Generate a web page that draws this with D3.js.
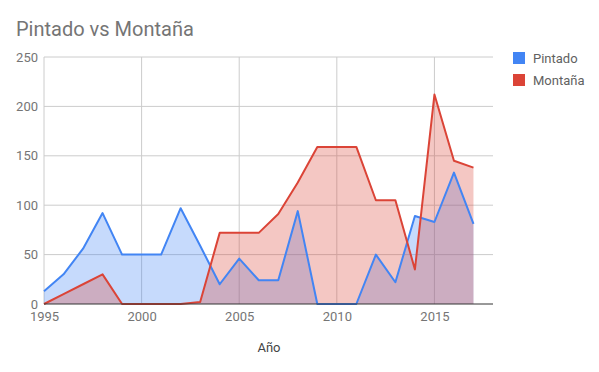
<!DOCTYPE html>
<html>
<head>
<meta charset="utf-8">
<script src="https://cdn.jsdelivr.net/npm/d3@7"></script>
<style>
  body { margin: 0; background: #fff; }
  svg { font-family: Roboto, Arial, sans-serif; }
</style>
</head>
<body>
<div id="chart"></div>
<script>
// Chart data
const years = d3.range(1995, 2018);
const pintado = [13, 30, 56, 92, 50, 50, 50, 97, 59, 20, 46, 24, 24, 94, 0, 0, 0, 50, 22, 89, 83, 133, 81];
const montana = [0, 10, 20, 30, 0, 0, 0, 0, 2, 72, 72, 72, 91, 123, 159, 159, 159, 105, 105, 35, 212, 145, 138];
const seriesNames = ["Pintado", "Montaña"];
const seriesColors = ["#4285f4", "#db4437"];
const yTicks = [0, 50, 100, 150, 200, 250];
const xTicks = [1995, 2000, 2005, 2010, 2015];

const width = 599, height = 372;
const margin = {top: 57, right: 106, bottom: 68, left: 44};

const svg = d3.select("#chart")
  .append("svg")
  .attr("width", width)
  .attr("height", height);

const x = d3.scaleLinear()
  .domain([1995, 2018])
  .range([margin.left, width - margin.right]);

const y = d3.scaleLinear()
  .domain([0, 250])
  .range([height - margin.bottom, margin.top]);

// title
svg.append("text")
  .attr("x", 16)
  .attr("y", 36)
  .attr("font-size", 20)
  .attr("fill", "#757575")
  .text("Pintado vs Montaña");

// gridlines
svg.append("g")
  .selectAll("line")
  .data(yTicks.slice(1))
  .join("line")
  .attr("x1", margin.left)
  .attr("x2", width - margin.right)
  .attr("y1", d => y(d))
  .attr("y2", d => y(d))
  .attr("stroke", "#cccccc");

svg.append("g")
  .selectAll("line")
  .data(xTicks)
  .join("line")
  .attr("x1", d => x(d))
  .attr("x2", d => x(d))
  .attr("y1", y(0))
  .attr("y2", y(250))
  .attr("stroke", "#cccccc");

// areas and lines
const allSeries = [pintado, montana];

const area = d3.area()
  .x((d, i) => x(years[i]))
  .y0(y(0))
  .y1(d => y(d));

const line = d3.line()
  .x((d, i) => x(years[i]))
  .y(d => y(d));

allSeries.forEach((s, k) => {
  svg.append("path")
    .datum(s)
    .attr("d", area)
    .attr("fill", seriesColors[k])
    .attr("fill-opacity", 0.3);
});

allSeries.forEach((s, k) => {
  svg.append("path")
    .datum(s)
    .attr("d", line)
    .attr("fill", "none")
    .attr("stroke", seriesColors[k])
    .attr("stroke-width", 2)
    .attr("stroke-linejoin", "round");
});

// baseline
svg.append("line")
  .attr("x1", margin.left)
  .attr("x2", width - margin.right)
  .attr("y1", y(0))
  .attr("y2", y(0))
  .attr("stroke", "#333333")
  .attr("stroke-width", 1);

// y axis labels
const yAxis = d3.axisLeft(y).tickValues(yTicks).tickSize(0).tickPadding(6);
svg.append("g")
  .attr("transform", `translate(${margin.left},0)`)
  .call(yAxis)
  .call(g => g.select(".domain").remove())
  .call(g => g.selectAll("text").attr("font-size", 13).attr("fill", "#757575").attr("font-family", "Roboto, Arial, sans-serif"));

// x axis labels
const xAxis = d3.axisBottom(x).tickValues(xTicks).tickFormat(d3.format("d")).tickSize(0).tickPadding(8);
svg.append("g")
  .attr("transform", `translate(0,${y(0)})`)
  .call(xAxis)
  .call(g => g.select(".domain").remove())
  .call(g => g.selectAll("text").attr("font-size", 13).attr("fill", "#757575").attr("font-family", "Roboto, Arial, sans-serif"));

// x axis title
svg.append("text")
  .attr("x", 269)
  .attr("y", 352)
  .attr("text-anchor", "middle")
  .attr("font-size", 13)
  .attr("fill", "#444")
  .text("Año");

// legend
const legend = svg.append("g")
  .attr("transform", "translate(513,52)");

seriesNames.forEach((name, i) => {
  const row = legend.append("g").attr("transform", `translate(0,${i * 22})`);
  row.append("rect")
    .attr("width", 12)
    .attr("height", 12)
    .attr("fill", seriesColors[i]);
  row.append("text")
    .attr("x", 20)
    .attr("y", 10.5)
    .attr("font-size", 13)
    .attr("fill", "#616161")
    .text(name);
});
</script>
</body>
</html>
